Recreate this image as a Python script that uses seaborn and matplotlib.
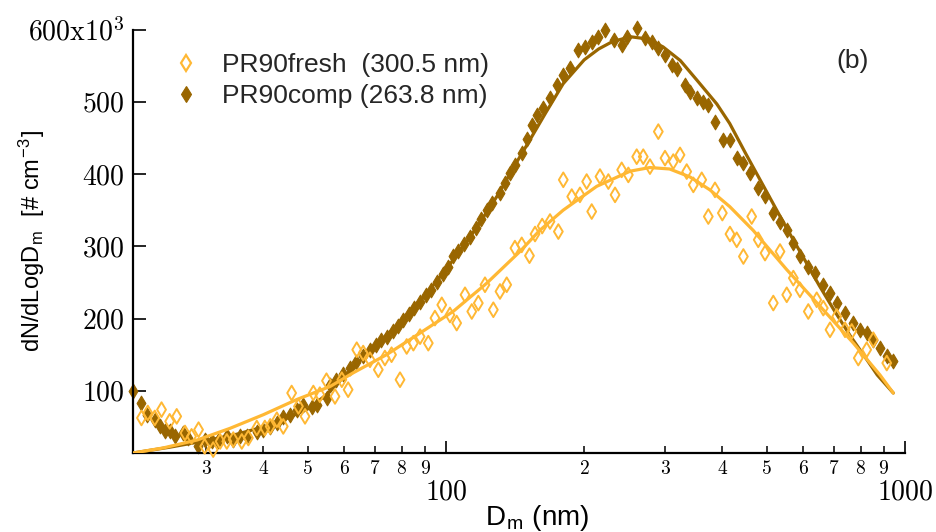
import matplotlib
matplotlib.use("Agg")
import matplotlib.pyplot as plt
import seaborn as sns
from matplotlib.lines import Line2D
from matplotlib.ticker import FixedLocator, FixedFormatter

# ---------------- data (values in 10^3 # cm^-3) ----------------
comp_d = [20.8, 21.7, 22.3, 23.2, 23.8, 24.4, 25.0, 25.7, 26.7, 27.4, 28.8, 29.8,
          30.9, 31.9, 33.3, 34.4, 35.6, 36.8, 38.7, 39.9, 41.4, 42.9, 44.2, 45.7,
          47.3, 48.8, 51.1, 52.4, 55.1, 55.9, 57.5, 59.6, 61.8, 63.8, 66.0, 68.3,
          70.5, 72.2, 74.3, 76.5, 78.5, 80.6, 83.0, 85.3, 87.8, 90.3, 92.9, 95.6,
          98.4, 100.8, 103.6, 106.4, 109.5, 112.8, 116.0, 119.3, 122.8, 126.1,
          131.1, 134.2, 137.8, 141.7, 146.4, 150.0, 153.7, 157.6, 162.9, 168.5,
          174.2, 180.1, 186.2, 194.2, 200.9, 207.7, 214.7, 222.0, 232.0, 241.4,
          247.6, 260.3, 271.4, 280.6, 290.1, 299.9, 310.2, 318.1, 331.7, 340.1,
          351.6, 363.6, 372.8, 385.5, 402.0, 415.6, 429.9, 444.5, 459.6, 478.9,
          495.5, 516.5, 534.2, 552.5, 571.1, 590.4, 615.6, 636.7, 663.8, 686.5,
          710.0, 740.2, 771.7, 797.9, 825.2, 852.9, 882.1, 912.5, 942.9]
comp_n = [100, 83, 67, 60, 51, 44, 44, 37, 42, 35, 23, 32.5,
          30, 30, 37, 32.5, 37, 37, 43.5, 46, 50, 56, 64, 67,
          74, 80, 78, 80, 90, 108.5, 115, 124, 132, 140, 148, 157,
          163, 170, 175, 183, 190, 198, 207, 215, 223, 232, 240, 250,
          262, 272, 286, 294, 303, 313, 325, 338, 350, 360,
          374, 388, 401.5, 412, 429, 448, 468, 482, 491.5, 505,
          523, 537, 547, 572, 576, 583, 590, 599, 585, 578.6,
          590, 601.7, 588, 583, 574, 565, 551, 546, 523, 514,
          505, 500, 496, 472.5, 447, 447, 422, 415, 401, 380.5,
          369, 346, 334.3, 322.8, 304.4, 286, 272, 263, 246.8, 235.3,
          221.5, 207.6, 193.8, 184.5, 180, 170.7, 159.2, 147.6, 140.7]

fresh_d = [21.7, 22.4, 23.2, 24.0, 25.0, 25.9, 27.0, 27.9, 28.9, 29.8, 31.1, 32.2,
           33.3, 34.4, 35.9, 37.1, 38.7, 40.3, 41.4, 42.8, 44.2, 46.1, 47.7, 49.3,
           51.4, 53.1, 54.9, 57.3, 59.3, 61.2, 63.9, 66.0, 68.3, 71.2, 73.6, 76.1,
           79.4, 82.1, 84.9, 87.8, 91.5, 94.6, 97.9, 102.0, 105.5, 110.0, 113.8,
           117.6, 121.6, 126.8, 131.1, 135.6, 141.3, 146.2, 152.0, 156.3, 162.0,
           168.5, 175.7, 180.1, 187.9, 195.8, 202.5, 207.7, 216.5, 225.8, 233.5,
           241.4, 249.6, 260.3, 269.0, 278.2, 290.1, 300.0, 312.7, 323.5, 334.5,
           345.8, 360.7, 372.8, 385.5, 400.0, 415.6, 429.9, 444.5, 463.4, 478.9,
           495.5, 516.5, 534.2, 552.5, 571.1, 590.4, 615.6, 642.2, 663.8, 686.5,
           710.0, 740.2, 765.5, 791.1, 825.2, 852.9, 912.5]
fresh_n = [62.5, 69.4, 62.5, 74, 57.8, 64.7, 41.7, 37, 46.3, 23.2, 18.7, 30,
           30, 32.5, 30, 34.8, 48.6, 48.6, 50.8, 60, 50.8, 97, 78.5, 64.7,
           97, 94.7, 114, 92.3, 115.4, 101.6, 156.9, 152.3, 143, 129.2, 145.4, 150,
           115.4, 161.4, 166, 175, 166, 200.7, 219, 205, 193.8, 232.9, 209.8,
           221.4, 246.8, 212.2, 237.5, 246.8, 297.5, 302, 287, 317, 328,
           334.3, 320.4, 392, 368.8, 371.2, 389.6, 348.1, 396.5, 389.6, 371.2,
           405.8, 398.8, 424, 424, 410.3, 458.7, 422, 417.2, 426.5, 403.4,
           385, 392, 341.2, 378.1, 346, 317, 309, 285.9, 341.2, 309,
           290.6, 221.5, 292.8, 232.9, 256, 239.8, 209.8, 226, 214.5, 184.5,
           202.9, 184.5, 182.2, 145.4, 156.9, 170.7, 138.5]

comp_fit_d = [20.8, 25, 30, 35, 40, 45, 50, 55, 60, 70, 80, 90, 100, 110, 120, 130,
              140, 150, 165, 180, 200, 215, 230, 252, 274, 297, 324, 352, 389, 415,
              450, 500, 550, 600, 650, 700, 760, 820, 870, 943]
comp_fit_n = [14, 22, 31, 40, 50, 62, 75, 95, 120, 162, 196, 232, 268, 303, 338, 372,
              408, 440, 485, 525, 558, 573, 583, 590, 587, 576, 557, 530, 497, 470,
              428, 375, 327, 285, 246, 212, 176, 146, 122, 97]

fresh_fit_d = [20.8, 24.2, 28.7, 33.8, 40, 47.3, 55.9, 62.8, 74.2, 87.8, 103.7, 122.7,
               145, 160, 180, 213, 252, 278, 307, 340, 376, 415, 467, 552, 653, 772,
               882, 943]
fresh_fit_n = [14, 21, 32, 48, 67, 88, 106, 125, 150, 180, 210, 249,
               293, 322, 350, 383, 404, 409, 407, 396, 378, 355, 322, 268, 217, 166,
               122, 97]

labels = ["PR90fresh  (300.5 nm)", "PR90comp (263.8 nm)"]
major_x = [100, 1000]
major_x_labels = ["$100$", "$1000$"]
minor_x = [30, 40, 50, 60, 70, 80, 90, 200, 300, 400, 500, 600, 700, 800, 900]
minor_x_labels = ["$3$", "$4$", "$5$", "$6$", "$7$", "$8$", "$9$",
                  "$2$", "$3$", "$4$", "$5$", "$6$", "$7$", "$8$", "$9$"]
y_ticks = [100, 200, 300, 400, 500, 600]
y_tick_labels = ["$100$", "$200$", "$300$", "$400$", "$500$", r"$600\mathrm{x}10^{3}$"]

ORANGE = "#FFB834"
BROWN = "#996600"

# ---------------- style ----------------
sns.set_theme(style="white")
plt.rcParams["font.family"] = ["Liberation Sans", "DejaVu Sans"]
plt.rcParams["mathtext.fontset"] = "cm"

fig = plt.figure(figsize=(9.36, 5.32), dpi=100)
ax = fig.add_axes([133 / 936, 1 - 453 / 532, 772 / 936, 423.5 / 532])
ax.set_xscale("log")

sns.scatterplot(x=comp_d, y=comp_n, marker="d", s=56, color=BROWN, edgecolor=BROWN,
                linewidth=0.8, ax=ax, clip_on=False, zorder=2)
sns.lineplot(x=comp_fit_d, y=comp_fit_n, color=BROWN, lw=2.3, estimator=None,
             ax=ax, zorder=3)
sns.scatterplot(x=fresh_d, y=fresh_n, marker="d", s=56, color=ORANGE, facecolor="none",
                edgecolor=ORANGE, linewidth=1.4, ax=ax, clip_on=False, zorder=4)
sns.lineplot(x=fresh_fit_d, y=fresh_fit_n, color=ORANGE, lw=2.3, estimator=None,
             ax=ax, zorder=5)

ax.set_xlim(20.8, 1000)
ax.set_ylim(14, 600)

ax.xaxis.set_major_locator(FixedLocator(major_x))
ax.xaxis.set_major_formatter(FixedFormatter(major_x_labels))
ax.xaxis.set_minor_locator(FixedLocator(minor_x))
ax.xaxis.set_minor_formatter(FixedFormatter(minor_x_labels))
ax.yaxis.set_major_locator(FixedLocator(y_ticks))
ax.yaxis.set_major_formatter(FixedFormatter(y_tick_labels))

ax.tick_params(axis="x", which="major", direction="in", length=9, width=1.2,
               labelsize=20, pad=19, colors="black", bottom=True)
ax.tick_params(axis="x", which="minor", direction="in", length=5, width=1.1,
               labelsize=14, pad=5, colors="black", bottom=True)
ax.tick_params(axis="y", which="major", direction="in", length=9, width=1.2,
               labelsize=20, pad=6, colors="black", left=True)

for s in ["top", "right"]:
    ax.spines[s].set_visible(False)
for s in ["left", "bottom"]:
    ax.spines[s].set_linewidth(1.6)
    ax.spines[s].set_color("black")

ax.set_xlabel(r"D$_\mathregular{m}$ (nm)", fontsize=20, color="black")
ax.xaxis.set_label_coords(0.523, -0.118)
ax.set_ylabel(r"dN/dLogD$_\mathregular{m}$  [# cm$^\mathregular{-3}$]", fontsize=17,
              color="black")
ax.yaxis.set_label_coords(-0.112, 0.5)

handles = [Line2D([], [], marker="d", ls="none", ms=8.5, mfc="none", mec=ORANGE, mew=1.6),
           Line2D([], [], marker="d", ls="none", ms=8.5, mfc=BROWN, mec=BROWN, mew=0.8)]
leg = ax.legend(handles, labels, loc="upper left", bbox_to_anchor=(0.052, 0.944),
                frameon=False, fontsize=19, handlelength=1.0, handletextpad=0.85,
                labelspacing=0.26, borderpad=0, borderaxespad=0)

fig.text(853 / 936, 1 - 61 / 532, "(b)", fontsize=19, ha="center", va="center")

fig.savefig("out.png", dpi=100)
